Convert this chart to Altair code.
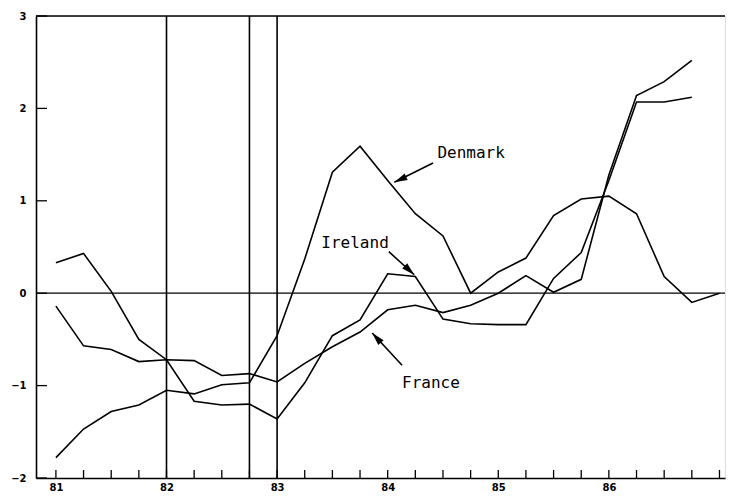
import altair as alt
import pandas as pd

# ---- data ----
quarters = [81.0, 81.25, 81.5, 81.75, 82.0, 82.25, 82.5, 82.75,
            83.0, 83.25, 83.5, 83.75, 84.0, 84.25, 84.5, 84.75,
            85.0, 85.25, 85.5, 85.75, 86.0, 86.25, 86.5, 86.75, 87.0]

denmark = [-1.78, -1.47, -1.28, -1.21, -1.05, -1.09, -0.99, -0.97,
           -0.46, 0.37, 1.31, 1.59, 1.22, 0.86, 0.62, 0.00,
           0.23, 0.38, 0.84, 1.02, 1.05, 0.86, 0.18, -0.10, 0.00]

ireland = [0.33, 0.43, 0.02, -0.50, -0.72, -1.17, -1.21, -1.20,
           -1.36, -0.97, -0.46, -0.29, 0.21, 0.18, -0.28, -0.33,
           -0.34, -0.34, 0.16, 0.44, 1.22, 2.07, 2.07, 2.12]

france = [-0.14, -0.57, -0.61, -0.74, -0.72, -0.73, -0.89, -0.87,
          -0.96, -0.76, -0.58, -0.42, -0.18, -0.13, -0.21, -0.13,
          0.00, 0.19, 0.01, 0.15, 1.28, 2.14, 2.29, 2.52]

x_labels = [81, 82, 83, 84, 85, 86]
y_labels = [-2, -1, 0, 1, 2, 3]
quarter_ticks = [81.0, 81.25, 81.5, 81.75, 82.0, 82.25, 82.5, 82.75,
                 83.0, 83.25, 83.5, 83.75, 84.0, 84.25, 84.5, 84.75,
                 85.0, 85.25, 85.5, 85.75, 86.0, 86.25, 86.5, 86.75, 87.0]
event_lines = [82.0, 82.75, 83.0]

ann_names = ["Denmark", "Ireland", "France"]
ann_text_x = [84.45, 83.40, 84.13]
ann_text_y = [1.52, 0.54, -0.97]
arrow_x0 = [84.41, 84.01, 84.13]
arrow_y0 = [1.41, 0.45, -0.78]
arrow_x1 = [84.06, 84.24, 83.86]
arrow_y1 = [1.20, 0.20, -0.43]
arrow_angle = [245, 133, 318]

# ---- tables ----
rows = []
for name, vals in [("Denmark", denmark), ("Ireland", ireland), ("France", france)]:
    for q, v in zip(quarters, vals):
        rows.append({"quarter": q, "value": v, "country": name})
lines_df = pd.DataFrame(rows)

ann_df = pd.DataFrame({"name": ann_names, "tx": ann_text_x, "ty": ann_text_y,
                       "x0": arrow_x0, "y0": arrow_y0, "x1": arrow_x1,
                       "y1": arrow_y1, "angle": arrow_angle})

W, H = 689, 462
xs = alt.Scale(domain=[80.82, 87.05], nice=False, zero=False)
ys = alt.Scale(domain=[-2, 3], nice=False, zero=False)

x_axis = alt.Axis(values=x_labels, format="d", ticks=False, grid=False,
                  domainColor="black", domainWidth=1.6, title=None,
                  labelFont="DejaVu Sans", labelFontWeight="bold",
                  labelFontSize=10, labelColor="black", labelPadding=4)
y_axis = alt.Axis(values=y_labels, format="d", ticks=False, grid=False,
                  domainColor="black", domainWidth=1.6, title=None,
                  labelFont="DejaVu Sans", labelFontWeight="bold",
                  labelFontSize=10, labelColor="black", labelPadding=10)


def X(field):
    return alt.X(field, scale=xs, axis=x_axis, title=None)


def Y(field):
    return alt.Y(field, scale=ys, axis=y_axis, title=None)


lines = alt.Chart(lines_df).mark_line(color="black", strokeWidth=1.6).encode(
    x=X("quarter:Q"), y=Y("value:Q"), detail="country:N")

top_border = alt.Chart(pd.DataFrame({"v": [3]})).mark_rule(
    color="black", strokeWidth=1.6).encode(y=Y("v:Q"))

zero_line = alt.Chart(pd.DataFrame({"v": [0]})).mark_rule(
    color="black", strokeWidth=1.2).encode(y=Y("v:Q"))

vlines = alt.Chart(pd.DataFrame({"q": event_lines})).mark_rule(
    color="black", strokeWidth=1.6).encode(x=X("q:Q"))

yticks = alt.Chart(pd.DataFrame({"v": y_labels})).mark_rule(
    color="black", strokeWidth=1.3).encode(
    y=Y("v:Q"), x=alt.value(0), x2=alt.value(11))

xticks = alt.Chart(pd.DataFrame({"q": quarter_ticks})).mark_rule(
    color="black", strokeWidth=1.3).encode(
    x=X("q:Q"), y=alt.value(H), y2=alt.value(H - 8))

labels = alt.Chart(ann_df).mark_text(
    align="left", baseline="middle", font="DejaVu Sans Mono", fontSize=16,
    color="black").encode(x=X("tx:Q"), y=Y("ty:Q"), text="name:N")

shafts = alt.Chart(ann_df).mark_rule(color="black", strokeWidth=1.6).encode(
    x=X("x0:Q"), y=Y("y0:Q"), x2="x1:Q", y2="y1:Q")

heads = alt.Chart(ann_df).mark_point(
    shape="M0,0L0.5,1.8L-0.5,1.8Z", filled=True, color="black", opacity=1,
    size=210).encode(
    x=X("x1:Q"), y=Y("y1:Q"), angle=alt.Angle("angle:Q", scale=None))

chart = alt.layer(
    lines, top_border, zero_line, vlines, yticks, xticks, shafts, heads, labels
).properties(
    width=W, height=H,
    autosize=alt.AutoSizeParams(type="none"),
    padding={"left": 28, "top": 8, "right": 2, "bottom": 18},
).configure_view(stroke=None).configure(background="white")

chart.save("out.html", embed_options={"renderer": "svg", "actions": False})
